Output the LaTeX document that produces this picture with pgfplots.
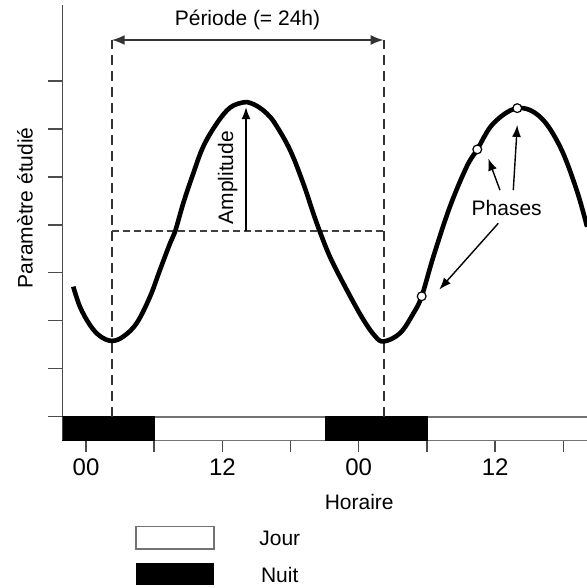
\documentclass[border=0pt]{standalone}
\usepackage{fontspec}
\setmainfont{Liberation Sans}
\usepackage{pgfplots}
\pgfplotsset{compat=1.18}
\usetikzlibrary{arrows.meta}

% rhythm curve (hours, arbitrary units)
\pgfplotstableread{
h y
-1.12 2.71
-0.53 2.29
0.35 1.91
1.23 1.68
2.26 1.58
3.28 1.67
4.46 1.95
5.63 2.50
6.51 3.06
7.39 3.61
7.83 3.85
8.56 4.45
9.44 5.07
10.32 5.63
11.50 6.11
12.67 6.44
13.84 6.55
14.43 6.54
15.15 6.46
15.90 6.32
16.63 6.11
17.95 5.56
19.12 4.86
20.00 4.24
20.59 3.85
21.47 3.33
22.64 2.78
24.26 2.08
25.43 1.68
26.22 1.57
27.63 1.74
28.80 2.15
29.54 2.51
30.56 3.33
32.03 4.38
33.50 5.21
34.43 5.57
35.84 6.11
37.95 6.43
39.95 6.25
41.71 5.63
43.18 4.72
44.09 3.96
}\rhythm

\begin{document}
\begin{tikzpicture}[font=\fontsize{10.5}{12.6}\selectfont]
\path[use as bounding box] (0,0) rectangle (293.5pt,294pt);
\begin{axis}[
    at={(31.15pt,73.65pt)}, anchor=south west,
    scale only axis,
    width=262.35pt, height=217.85pt,
    xmin=-2.086, xmax=44.087,
    ymin=-0.5, ymax=8.58,
    axis x line*=bottom, axis y line*=left,
    axis line style={black!70, line width=0.8pt},
    xtick={0,6,...,42},
    xticklabels={00,,12,,00,,12,},
    ytick=\empty,
    extra y ticks={0,1,...,7},
    extra y tick labels={},
    extra y tick style={major tick length=7.25pt},
    tick align=outside,
    major tick length=5.5pt,
    tick style={black!70, line width=0.75pt},
    xticklabel style={font=\fontsize{12}{14}\selectfont},
    clip mode=individual,
]

% day / night strip
\addplot[draw=black!55, fill=white, line width=0.8pt] coordinates {(-3,-0.5) (45,-0.5) (45,0) (-3,0)} -- cycle;
\addplot[draw=black, fill=black] coordinates {(-3,-0.5) (6,-0.5) (6,0) (-3,0)} -- cycle;
\addplot[draw=black, fill=black] coordinates {(21.1,-0.5) (30,-0.5) (30,0) (21.1,0)} -- cycle;

% period construction
\addplot[black!80, line width=1pt, dash pattern=on 5pt off 3pt] coordinates {(2.26,0) (2.26,7.85)};
\addplot[black!80, line width=1pt, dash pattern=on 5pt off 3pt] coordinates {(26.2,0) (26.2,7.85)};
\addplot[black!80, line width=1.1pt, {Latex[length=6.5pt,width=5pt]}-{Latex[length=6.5pt,width=5pt]}] coordinates {(2.26,7.85) (26.2,7.85)};
\addplot[black!75, line width=0.8pt, dash pattern=on 3.5pt off 2pt] coordinates {(2.26,3.87) (26.2,3.87)};
\addplot[black, line width=0.6pt, -{Latex[length=6pt,width=4.5pt]}] coordinates {(14.08,3.87) (14.08,6.45)};

\addplot[black, line width=2.3pt, smooth, tension=0.6] table[x=h, y=y] {\rhythm};

% phases
\addplot[black, line width=0.7pt, -{Latex[length=6pt,width=4.5pt]}] coordinates {(36.43,4.72) (35.40,5.38)};
\addplot[black, line width=0.7pt, -{Latex[length=6pt,width=4.5pt]}] coordinates {(37.60,4.72) (37.95,6.08)};
\addplot[black, line width=0.7pt, -{Latex[length=6pt,width=4.5pt]}] coordinates {(36.28,4.03) (31.09,2.65)};
\addplot[only marks, mark=*, mark size=2.2pt, mark options={fill=white, draw=black, line width=0.6pt}] coordinates {(29.54,2.51) (34.43,5.57) (37.95,6.43)};

\node[rotate=90] at (axis cs:-5.37,4.35) {Paramètre étudié};
\node[rotate=90] at (axis cs:12.47,4.98) {Amplitude};
\node at (axis cs:14.21,8.26) {Période (= 24h)};
\node at (axis cs:37.02,4.34) {Phases};
\node at (axis cs:24.04,-1.78) {Horaire};

% legend
\draw[black!55, fill=white, line width=0.8pt] (axis cs:4.40,-2.29) rectangle (axis cs:11.26,-2.756);
\fill[black] (axis cs:4.40,-3.05) rectangle (axis cs:11.26,-3.51);
\node[anchor=west, inner sep=0pt] at (axis cs:15.22,-2.53) {Jour};
\node[anchor=west, inner sep=0pt] at (axis cs:15.37,-3.30) {Nuit};
\end{axis}
\end{tikzpicture}
\end{document}
